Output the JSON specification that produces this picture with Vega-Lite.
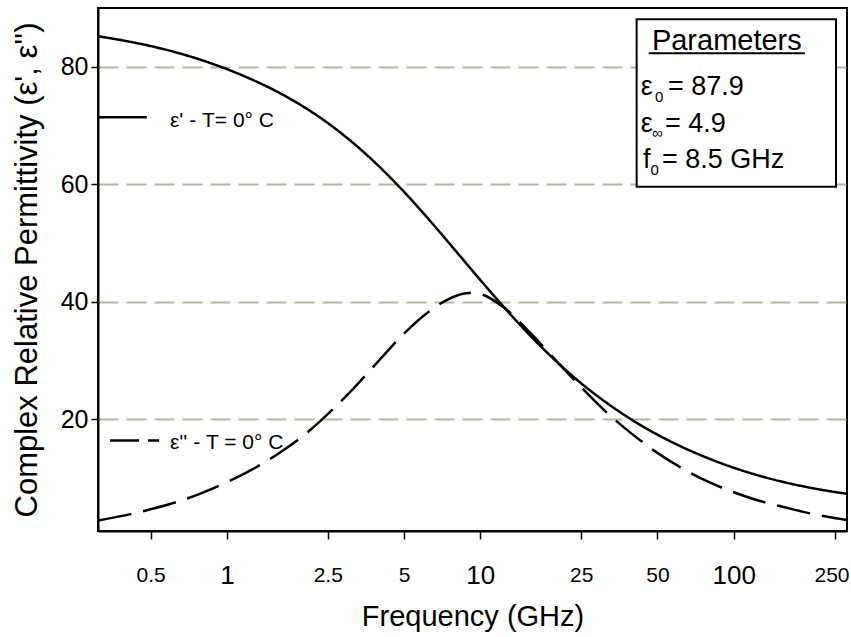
{
  "$schema": "https://vega.github.io/schema/vega-lite/v6.json",
  "width": 749,
  "height": 523,
  "autosize": {"type": "none"},
  "padding": {"left": 98, "top": 8, "right": 4, "bottom": 106},
  "background": "white",
  "config": {
    "font": "Liberation Sans",
    "view": {"stroke": "black", "strokeWidth": 2},
    "axis": {
      "domainColor": "black",
      "domainWidth": 2,
      "tickColor": "black",
      "tickWidth": 1.5,
      "labelColor": "black",
      "titleColor": "black",
      "titleFontWeight": "normal",
      "titleFont": "Liberation Sans",
      "labelFont": "Liberation Sans"
    }
  },
  "datasets": {
    "curves": [
      {"freq": 0.31, "value": 85.2, "series": "e1"},
      {"freq": 0.398, "value": 84.4, "series": "e1"},
      {"freq": 0.501, "value": 83.52, "series": "e1"},
      {"freq": 0.631, "value": 82.44, "series": "e1"},
      {"freq": 0.794, "value": 81.14, "series": "e1"},
      {"freq": 1.0, "value": 79.6, "series": "e1"},
      {"freq": 1.259, "value": 77.8, "series": "e1"},
      {"freq": 1.585, "value": 75.72, "series": "e1"},
      {"freq": 1.995, "value": 73.27, "series": "e1"},
      {"freq": 2.512, "value": 70.37, "series": "e1"},
      {"freq": 3.162, "value": 66.97, "series": "e1"},
      {"freq": 3.981, "value": 63.07, "series": "e1"},
      {"freq": 5.012, "value": 58.67, "series": "e1"},
      {"freq": 6.31, "value": 53.87, "series": "e1"},
      {"freq": 7.943, "value": 48.82, "series": "e1"},
      {"freq": 10.0, "value": 43.72, "series": "e1"},
      {"freq": 12.59, "value": 38.77, "series": "e1"},
      {"freq": 15.85, "value": 34.12, "series": "e1"},
      {"freq": 19.95, "value": 29.87, "series": "e1"},
      {"freq": 25.12, "value": 26.07, "series": "e1"},
      {"freq": 31.62, "value": 22.77, "series": "e1"},
      {"freq": 39.81, "value": 19.87, "series": "e1"},
      {"freq": 50.12, "value": 17.37, "series": "e1"},
      {"freq": 63.1, "value": 15.22, "series": "e1"},
      {"freq": 79.43, "value": 13.37, "series": "e1"},
      {"freq": 100, "value": 11.77, "series": "e1"},
      {"freq": 125.9, "value": 10.42, "series": "e1"},
      {"freq": 158.5, "value": 9.3, "series": "e1"},
      {"freq": 199.5, "value": 8.38, "series": "e1"},
      {"freq": 251.2, "value": 7.63, "series": "e1"},
      {"freq": 280, "value": 7.33, "series": "e1"},
      {"freq": 0.31, "value": 2.8, "series": "e2"},
      {"freq": 0.4, "value": 3.7, "series": "e2"},
      {"freq": 0.5, "value": 4.7, "series": "e2"},
      {"freq": 0.63, "value": 5.9, "series": "e2"},
      {"freq": 0.8, "value": 7.5, "series": "e2"},
      {"freq": 1.0, "value": 9.3, "series": "e2"},
      {"freq": 1.25, "value": 11.4, "series": "e2"},
      {"freq": 1.6, "value": 14.2, "series": "e2"},
      {"freq": 2.0, "value": 17.2, "series": "e2"},
      {"freq": 2.5, "value": 20.9, "series": "e2"},
      {"freq": 3.15, "value": 25.2, "series": "e2"},
      {"freq": 4.0, "value": 30.1, "series": "e2"},
      {"freq": 5.0, "value": 34.6, "series": "e2"},
      {"freq": 6.3, "value": 38.4, "series": "e2"},
      {"freq": 8.0, "value": 41.0, "series": "e2"},
      {"freq": 9.0, "value": 41.5, "series": "e2"},
      {"freq": 10.0, "value": 41.3, "series": "e2"},
      {"freq": 12.5, "value": 38.9, "series": "e2"},
      {"freq": 16, "value": 34.4, "series": "e2"},
      {"freq": 20, "value": 29.9, "series": "e2"},
      {"freq": 25, "value": 25.5, "series": "e2"},
      {"freq": 31.5, "value": 21.2, "series": "e2"},
      {"freq": 40, "value": 17.4, "series": "e2"},
      {"freq": 50, "value": 14.3, "series": "e2"},
      {"freq": 63, "value": 11.6, "series": "e2"},
      {"freq": 80, "value": 9.3, "series": "e2"},
      {"freq": 100, "value": 7.6, "series": "e2"},
      {"freq": 125, "value": 6.2, "series": "e2"},
      {"freq": 160, "value": 5.0, "series": "e2"},
      {"freq": 200, "value": 4.0, "series": "e2"},
      {"freq": 250, "value": 3.2, "series": "e2"},
      {"freq": 280, "value": 2.85, "series": "e2"}
    ]
  },
  "layer": [
    {
      "data": {"name": "curves"},
      "mark": {"type": "line", "color": "black", "strokeWidth": 2.5, "interpolate": "monotone", "clip": true},
      "encoding": {
        "x": {
          "field": "freq",
          "type": "quantitative",
          "scale": {"type": "log", "domain": [0.31, 280], "nice": false},
          "axis": {
            "title": "Frequency (GHz)",
            "titleFontSize": 29,
            "titlePadding": 14,
            "values": [0.5, 1, 2.5, 5, 10, 25, 50, 100, 250],
            "format": "~g",
            "grid": false,
            "tickSize": 8,
            "labelBaseline": "middle",
            "labelPadding": 36,
            "labelFlush": false,
            "labelOverlap": false,
            "labelOffset": {"condition": {"test": "datum.value == 250", "value": -3}, "value": 0},
            "labelFontSize": {"condition": {"test": "datum.value == 1 || datum.value == 10 || datum.value == 100", "value": 26}, "value": 21}
          }
        },
        "y": {
          "field": "value",
          "type": "quantitative",
          "scale": {"domain": [1, 90], "nice": false, "zero": false},
          "axis": {
            "title": "Complex Relative Permittivity (ε', ε'')",
            "titleFontSize": 31,
            "titlePadding": 17,
            "values": [20, 40, 60, 80],
            "grid": true,
            "gridDash": [20, 8],
            "gridColor": "#b4b4a4",
            "gridWidth": 2,
            "tickSize": 7,
            "labelPadding": 3,
            "labelFontSize": 25
          }
        },
        "strokeDash": {
          "field": "series",
          "type": "nominal",
          "scale": {"domain": ["e2", "e1"], "range": [[34, 12], [1, 0]]},
          "legend": null
        }
      }
    },
    {
      "data": {"values": [{}]},
      "mark": {"type": "rule", "color": "black", "strokeWidth": 2.5},
      "encoding": {"x": {"datum": 0.31}, "x2": {"datum": 0.483}, "y": {"datum": 71.4}}
    },
    {
      "data": {"values": [{}]},
      "mark": {"type": "rule", "color": "black", "strokeWidth": 2.5, "strokeDash": [29, 9]},
      "encoding": {"x": {"datum": 0.346}, "x2": {"datum": 0.54}, "y": {"datum": 16.4}}
    },
    {
      "data": {"values": [{}]},
      "mark": {"type": "text", "align": "left", "baseline": "middle", "fontSize": 21, "color": "black"},
      "encoding": {"x": {"datum": 0.596}, "y": {"datum": 70.7}, "text": {"value": "ε' - T= 0° C"}}
    },
    {
      "data": {"values": [{}]},
      "mark": {"type": "text", "align": "left", "baseline": "middle", "fontSize": 21, "color": "black"},
      "encoding": {"x": {"datum": 0.596}, "y": {"datum": 16.0}, "text": {"value": "ε'' - T = 0° C"}}
    },
    {
      "data": {"values": [{}]},
      "mark": {"type": "rect", "fill": "white", "stroke": "black", "strokeWidth": 2},
      "encoding": {"x": {"datum": 41.4}, "x2": {"datum": 253.4}, "y": {"datum": 88.1}, "y2": {"datum": 59.6}}
    },
    {
      "data": {"values": [{}]},
      "mark": {"type": "text", "align": "center", "baseline": "alphabetic", "fontSize": 29, "color": "black"},
      "encoding": {"x": {"datum": 93.96}, "y": {"datum": 82.86}, "text": {"value": "Parameters"}}
    },
    {
      "data": {"values": [{}]},
      "mark": {"type": "rule", "color": "black", "strokeWidth": 2},
      "encoding": {"x": {"datum": 46.2}, "x2": {"datum": 191}, "y": {"datum": 82.3}}
    },
    {
      "data": {"values": [{}]},
      "mark": {"type": "text", "align": "left", "baseline": "alphabetic", "fontSize": 27, "color": "black"},
      "encoding": {"x": {"datum": 42.96}, "y": {"datum": 75.2}, "text": {"value": "ε"}}
    },
    {
      "data": {"values": [{}]},
      "mark": {"type": "text", "align": "left", "baseline": "alphabetic", "fontSize": 15, "color": "black"},
      "encoding": {"x": {"datum": 48.93}, "y": {"datum": 74.0}, "text": {"value": "0"}}
    },
    {
      "data": {"values": [{}]},
      "mark": {"type": "text", "align": "left", "baseline": "alphabetic", "fontSize": 27, "color": "black"},
      "encoding": {"x": {"datum": 55.06}, "y": {"datum": 75.2}, "text": {"value": "= 87.9"}}
    },
    {
      "data": {"values": [{}]},
      "mark": {"type": "text", "align": "left", "baseline": "alphabetic", "fontSize": 27, "color": "black"},
      "encoding": {"x": {"datum": 42.96}, "y": {"datum": 68.95}, "text": {"value": "ε"}}
    },
    {
      "data": {"values": [{}]},
      "mark": {"type": "text", "align": "left", "baseline": "alphabetic", "fontSize": 15, "color": "black"},
      "encoding": {"x": {"datum": 47.62}, "y": {"datum": 67.8}, "text": {"value": "∞"}}
    },
    {
      "data": {"values": [{}]},
      "mark": {"type": "text", "align": "left", "baseline": "alphabetic", "fontSize": 27, "color": "black"},
      "encoding": {"x": {"datum": 53.58}, "y": {"datum": 68.95}, "text": {"value": "= 4.9"}}
    },
    {
      "data": {"values": [{}]},
      "mark": {"type": "text", "align": "left", "baseline": "alphabetic", "fontSize": 27, "color": "black"},
      "encoding": {"x": {"datum": 43.86}, "y": {"datum": 62.7}, "text": {"value": "f"}}
    },
    {
      "data": {"values": [{}]},
      "mark": {"type": "text", "align": "left", "baseline": "alphabetic", "fontSize": 15, "color": "black"},
      "encoding": {"x": {"datum": 46.96}, "y": {"datum": 61.5}, "text": {"value": "0"}}
    },
    {
      "data": {"values": [{}]},
      "mark": {"type": "text", "align": "left", "baseline": "alphabetic", "fontSize": 27, "color": "black"},
      "encoding": {"x": {"datum": 52.13}, "y": {"datum": 62.7}, "text": {"value": "= 8.5 GHz"}}
    }
  ]
}
